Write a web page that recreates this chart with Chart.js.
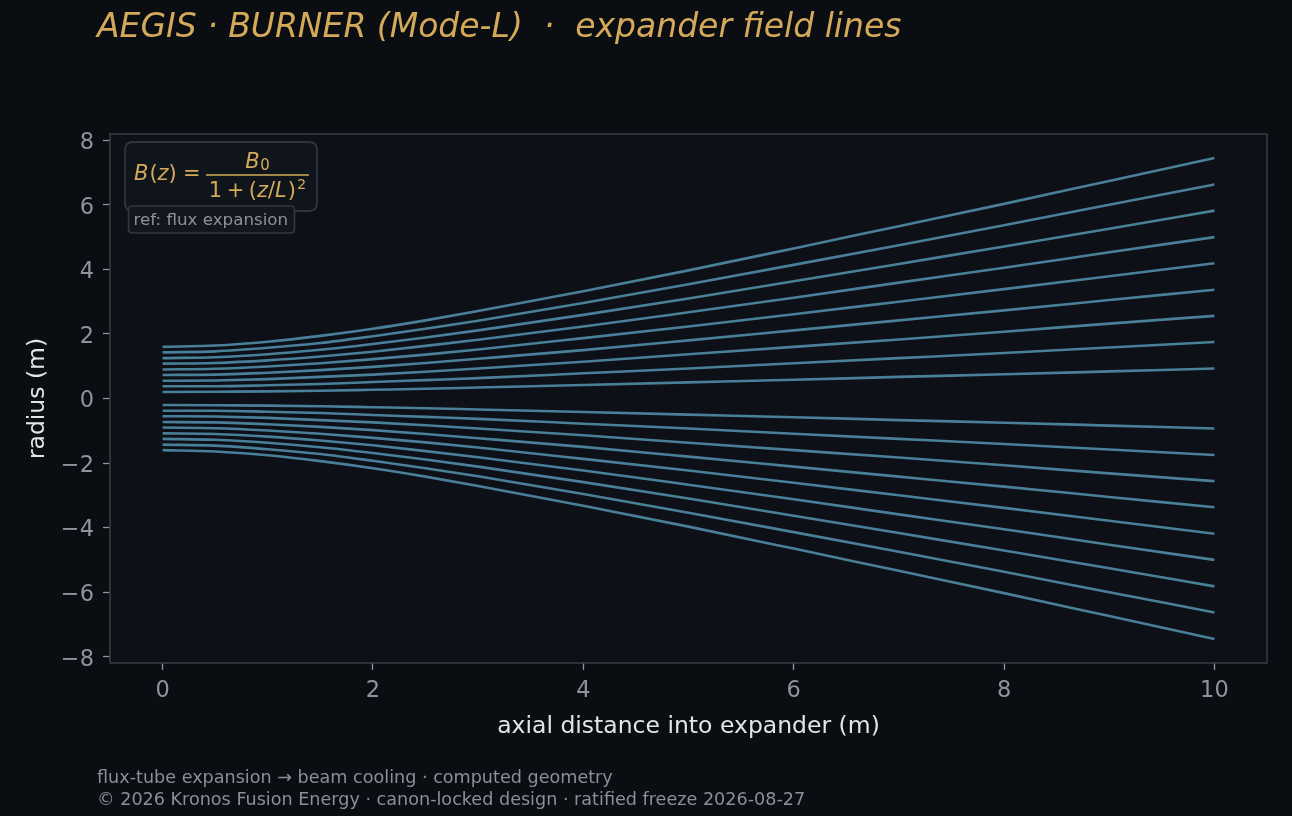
<!DOCTYPE html>
<html>
<head>
<meta charset="utf-8">
<script src="https://cdn.jsdelivr.net/npm/chart.js@4.4.1/dist/chart.umd.min.js"></script>
<style>
  html, body { margin: 0; padding: 0; background: #0a0d11; }
  #wrap { width: 1292px; height: 816px; }
</style>
</head>
<body>
<div id="wrap"><canvas id="c" width="1292" height="816"></canvas></div>
<script>
// axial positions (m)
const zPoints = [0, 0.5, 1, 1.5, 2, 2.5, 3, 4, 5, 6, 7, 8, 9, 10];

// upper field lines (radius, m), inner -> outer
const upper1 = [0.20, 0.21, 0.22, 0.24, 0.27, 0.30, 0.34, 0.42, 0.50, 0.58, 0.67, 0.75, 0.84, 0.93];
const upper2 = [0.38, 0.38, 0.41, 0.45, 0.51, 0.57, 0.63, 0.78, 0.93, 1.09, 1.25, 1.41, 1.58, 1.75];
const upper3 = [0.55, 0.56, 0.60, 0.67, 0.74, 0.83, 0.93, 1.14, 1.37, 1.60, 1.83, 2.07, 2.32, 2.56];
const upper4 = [0.73, 0.74, 0.80, 0.88, 0.98, 1.10, 1.23, 1.50, 1.80, 2.11, 2.42, 2.73, 3.05, 3.37];
const upper5 = [0.90, 0.92, 0.99, 1.09, 1.22, 1.36, 1.52, 1.87, 2.23, 2.61, 3.00, 3.39, 3.79, 4.19];
const upper6 = [1.08, 1.10, 1.18, 1.30, 1.45, 1.63, 1.82, 2.23, 2.67, 3.12, 3.59, 4.05, 4.53, 5.00];
const upper7 = [1.25, 1.28, 1.37, 1.51, 1.69, 1.89, 2.11, 2.59, 3.10, 3.63, 4.17, 4.71, 5.26, 5.82];
const upper8 = [1.43, 1.46, 1.57, 1.72, 1.93, 2.16, 2.41, 2.96, 3.54, 4.14, 4.75, 5.37, 6.00, 6.63];
const upper9 = [1.60, 1.64, 1.76, 1.94, 2.16, 2.42, 2.71, 3.32, 3.97, 4.65, 5.34, 6.03, 6.74, 7.45];

// lower field lines (radius, m), inner -> outer
const lower1 = [-0.20, -0.21, -0.22, -0.24, -0.27, -0.30, -0.34, -0.42, -0.50, -0.58, -0.67, -0.75, -0.84, -0.93];
const lower2 = [-0.38, -0.38, -0.41, -0.45, -0.51, -0.57, -0.63, -0.78, -0.93, -1.09, -1.25, -1.41, -1.58, -1.75];
const lower3 = [-0.55, -0.56, -0.60, -0.67, -0.74, -0.83, -0.93, -1.14, -1.37, -1.60, -1.83, -2.07, -2.32, -2.56];
const lower4 = [-0.73, -0.74, -0.80, -0.88, -0.98, -1.10, -1.23, -1.50, -1.80, -2.11, -2.42, -2.73, -3.05, -3.37];
const lower5 = [-0.90, -0.92, -0.99, -1.09, -1.22, -1.36, -1.52, -1.87, -2.23, -2.61, -3.00, -3.39, -3.79, -4.19];
const lower6 = [-1.08, -1.10, -1.18, -1.30, -1.45, -1.63, -1.82, -2.23, -2.67, -3.12, -3.59, -4.05, -4.53, -5.00];
const lower7 = [-1.25, -1.28, -1.37, -1.51, -1.69, -1.89, -2.11, -2.59, -3.10, -3.63, -4.17, -4.71, -5.26, -5.82];
const lower8 = [-1.43, -1.46, -1.57, -1.72, -1.93, -2.16, -2.41, -2.96, -3.54, -4.14, -4.75, -5.37, -6.00, -6.63];
const lower9 = [-1.60, -1.64, -1.76, -1.94, -2.16, -2.42, -2.71, -3.32, -3.97, -4.65, -5.34, -6.03, -6.74, -7.45];

// tick labels
const xTickValues = [0, 2, 4, 6, 8, 10];
const yTickValues = [-8, -6, -4, -2, 0, 2, 4, 6, 8];

// texts
const titleText = 'AEGIS \u00b7 BURNER (Mode-L)  \u00b7  expander field lines';
const xLabel = 'axial distance into expander (m)';
const yLabel = 'radius (m)';
const footer1 = 'flux-tube expansion \u2192 beam cooling \u00b7 computed geometry';
const footer2 = '\u00a9 2026 Kronos Fusion Energy \u00b7 canon-locked design \u00b7 ratified freeze 2026-08-27';
const refText = 'ref: flux expansion';

const allLines = [upper1, upper2, upper3, upper4, upper5, upper6, upper7, upper8, upper9,
                  lower1, lower2, lower3, lower4, lower5, lower6, lower7, lower8, lower9];

const LINE_COLOR = '#4a7f99';
const GOLD = '#d4aa5a';
const TICK_COLOR = '#8d94a0';
const LABEL_COLOR = '#e2e4e8';
const FONT = '"DejaVu Sans", "Noto Sans", sans-serif';

const datasets = allLines.map(arr => ({
  data: zPoints.map((z, i) => ({ x: z, y: arr[i] })),
  borderColor: LINE_COLOR,
  borderWidth: 2.6,
  pointRadius: 0,
  fill: false,
  cubicInterpolationMode: 'monotone',
  borderCapStyle: 'butt'
}));

function roundRect(ctx, x, y, w, h, r) {
  ctx.beginPath();
  ctx.moveTo(x + r, y);
  ctx.lineTo(x + w - r, y);
  ctx.quadraticCurveTo(x + w, y, x + w, y + r);
  ctx.lineTo(x + w, y + h - r);
  ctx.quadraticCurveTo(x + w, y + h, x + w - r, y + h);
  ctx.lineTo(x + r, y + h);
  ctx.quadraticCurveTo(x, y + h, x, y + h - r);
  ctx.lineTo(x, y + r);
  ctx.quadraticCurveTo(x, y, x + r, y);
  ctx.closePath();
}

function drawPieces(ctx, pieces, x0) {
  let x = x0;
  for (const p of pieces) {
    ctx.font = p.f;
    if (p.gapBefore) x += p.gapBefore;
    ctx.fillText(p.t, x, p.y);
    x += ctx.measureText(p.t).width;
    if (p.gapAfter) x += p.gapAfter;
  }
  return x;
}
function measurePieces(ctx, pieces) {
  let w = 0;
  for (const p of pieces) {
    ctx.font = p.f;
    w += (p.gapBefore || 0) + ctx.measureText(p.t).width + (p.gapAfter || 0);
  }
  return w;
}

const decorPlugin = {
  id: 'decor',
  beforeDraw(chart) {
    const ctx = chart.ctx;
    const a = chart.chartArea;
    ctx.save();
    ctx.fillStyle = '#0a0d11';
    ctx.fillRect(0, 0, chart.width, chart.height);
    ctx.fillStyle = '#0d1016';
    ctx.fillRect(a.left, a.top, a.right - a.left, a.bottom - a.top);
    ctx.restore();
  },
  afterDraw(chart) {
    const ctx = chart.ctx;
    const a = chart.chartArea;
    ctx.save();
    // frame
    ctx.strokeStyle = '#3a3e45';
    ctx.lineWidth = 1.5;
    ctx.strokeRect(a.left, a.top, a.right - a.left, a.bottom - a.top);

    // title
    ctx.fillStyle = GOLD;
    ctx.textAlign = 'left';
    ctx.textBaseline = 'alphabetic';
    ctx.font = 'italic 33px ' + FONT;
    ctx.fillText(titleText, 97, 37);

    // x label
    ctx.fillStyle = LABEL_COLOR;
    ctx.font = '23.5px ' + FONT;
    ctx.textAlign = 'center';
    ctx.fillText(xLabel, (a.left + a.right) / 2, 733);

    // y label
    ctx.save();
    ctx.translate(44, (a.top + a.bottom) / 2);
    ctx.rotate(-Math.PI / 2);
    ctx.fillText(yLabel, 0, 0);
    ctx.restore();

    // footer
    ctx.textAlign = 'left';
    ctx.fillStyle = '#8a909a';
    ctx.font = '17.6px ' + FONT;
    ctx.fillText(footer1, 97, 783);
    ctx.fillText(footer2, 97, 805);

    // formula box
    roundRect(ctx, 125, 142, 192, 69, 8);
    ctx.fillStyle = 'rgba(18,21,28,0.85)';
    ctx.fill();
    ctx.strokeStyle = '#30343c';
    ctx.lineWidth = 1.8;
    ctx.stroke();

    ctx.fillStyle = GOLD;
    ctx.textAlign = 'left';
    const it = 'italic 21px ' + FONT, up = '21px ' + FONT;
    const sub = '15px ' + FONT, sup = '14.5px ' + FONT;
    drawPieces(ctx, [
      { f: it, t: 'B', y: 180 }, { f: up, t: '(', y: 180, gapBefore: 1 },
      { f: it, t: 'z', y: 180 }, { f: up, t: ')', y: 180 }
    ], 134);
    ctx.font = up;
    ctx.fillText('=', 183, 180);
    // fraction bar
    ctx.strokeStyle = GOLD;
    ctx.lineWidth = 1.3;
    ctx.beginPath();
    ctx.moveTo(206, 175);
    ctx.lineTo(309, 175);
    ctx.stroke();
    const cx = 257.5;
    const num = [{ f: it, t: 'B', y: 168 }, { f: sub, t: '0', y: 169.5, gapBefore: 0.5 }];
    drawPieces(ctx, num, cx - measurePieces(ctx, num) / 2);
    const den = [
      { f: up, t: '1', y: 197 },
      { f: up, t: '+', y: 197, gapBefore: 4.5, gapAfter: 4.5 },
      { f: up, t: '(', y: 197 }, { f: it, t: 'z', y: 197 },
      { f: up, t: '/', y: 197 }, { f: it, t: 'L', y: 197 },
      { f: up, t: ')', y: 197, gapBefore: 1 },
      { f: sup, t: '2', y: 188.5, gapBefore: 1 }
    ];
    drawPieces(ctx, den, cx - measurePieces(ctx, den) / 2);

    // ref box
    roundRect(ctx, 128.5, 206, 166, 27, 4);
    ctx.fillStyle = '#13161c';
    ctx.fill();
    ctx.strokeStyle = '#34383f';
    ctx.lineWidth = 1.6;
    ctx.stroke();
    ctx.fillStyle = '#8b929e';
    ctx.font = '16.7px ' + FONT;
    ctx.fillText(refText, 133.5, 225);

    ctx.restore();
  }
};

const tickFmt = v => (v < 0 ? '\u2212' + Math.abs(v) : String(v));

new Chart(document.getElementById('c'), {
  type: 'line',
  data: { datasets },
  plugins: [decorPlugin],
  options: {
    responsive: false,
    animation: false,
    devicePixelRatio: 1,
    layout: { padding: { left: 0, top: 134, right: 25, bottom: 0 } },
    plugins: { legend: { display: false }, tooltip: { enabled: false }, title: { display: false } },
    elements: { line: { tension: 0 } },
    scales: {
      x: {
        type: 'linear',
        min: -0.5,
        max: 10.5,
        afterBuildTicks: s => { s.ticks = xTickValues.map(v => ({ value: v })); },
        afterFit: s => { s.height = 153; },
        ticks: {
          color: TICK_COLOR,
          font: { family: FONT, size: 22.5 },
          padding: 8,
          maxRotation: 0,
          autoSkip: false,
          callback: tickFmt
        },
        grid: { display: true, drawOnChartArea: false, drawTicks: true, tickLength: 7, tickWidth: 1.3, tickColor: TICK_COLOR },
        border: { display: false }
      },
      y: {
        type: 'linear',
        min: -8.195,
        max: 8.195,
        afterBuildTicks: s => { s.ticks = yTickValues.map(v => ({ value: v })); },
        afterFit: s => { s.width = 110; },
        ticks: {
          color: TICK_COLOR,
          font: { family: FONT, size: 22.5 },
          padding: 9,
          labelOffset: 3,
          autoSkip: false,
          callback: tickFmt
        },
        grid: { display: true, drawOnChartArea: false, drawTicks: true, tickLength: 7, tickWidth: 1.3, tickColor: TICK_COLOR },
        border: { display: false }
      }
    }
  }
});
</script>
</body>
</html>
